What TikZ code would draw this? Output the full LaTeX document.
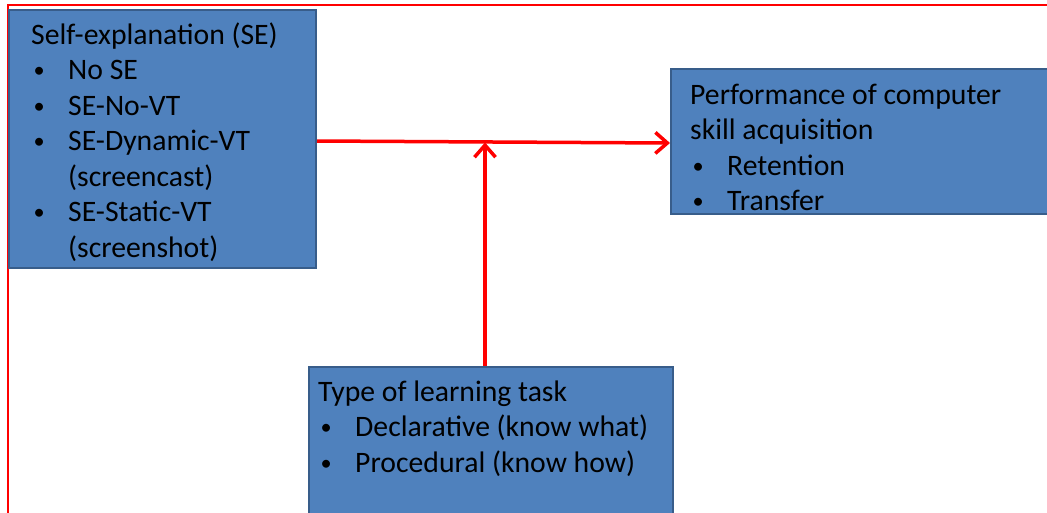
\documentclass[tikz,border=0pt]{standalone}
\usepackage{fontspec}
\setmainfont{Carlito}
\usetikzlibrary{arrows.meta}
\definecolor{boxfill}{HTML}{4F81BD}
\definecolor{boxline}{HTML}{385D8A}
\newcommand{\bul}{\makebox[37pt][l]{\hspace{2.5pt}\raisebox{1.8pt}{\scalebox{0.75}{•}}}}
\newcommand{\ind}{\hspace*{37pt}}
\tikzset{
  box/.style={rectangle, draw=boxline, fill=boxfill, line width=2pt, inner sep=0pt},
  label text/.style={anchor=base west, inner sep=0pt, text=black,
    font=\fontsize{29.7}{35.5}\selectfont},
  arr/.style={draw=red, line width=3.5pt, -{Straight Barb[length=12pt,width=21pt]}},
  frame/.style={draw=red, line width=2.3pt}
}
\begin{document}
\begin{tikzpicture}[x=1pt,y=-1pt]
\clip (0,0) rectangle (1047,512);
\fill[white] (0,0) rectangle (1047,512);
\draw[frame] (8,5) rectangle (1080,540);

\node[box, minimum width=307pt, minimum height=258pt] (se) at (162.5,139) {};
\node[box, minimum width=400pt, minimum height=145pt] (perf) at (871,141.5) {};
\node[box, minimum width=364pt, minimum height=180pt] (task) at (491,457) {};

\node[label text] (setext) at (31,44) {\parbox[t]{290pt}{\raggedright
Self-explanation (SE)\\
\bul No SE\\
\bul SE-No-VT\\
\bul SE-Dynamic-VT\\
\ind(screencast)\\
\bul SE-Static-VT\\
\ind(screenshot)}};

\node[label text] (perftext) at (690,104) {\parbox[t]{350pt}{\raggedright
Performance of computer\\
skill acquisition\\
\bul Retention\\
\bul Transfer}};

\node[label text] (tasktext) at (318,401) {\parbox[t]{350pt}{\raggedright
Type of learning task\\
\bul Declarative (know what)\\
\bul Procedural (know how)}};

\coordinate (join) at (485,142.5);
\draw[arr] ([yshift=-2pt]se.east) -- ([yshift=-1.5pt]perf.west);
\draw[arr] (task.north -| join) -- (join);
\end{tikzpicture}
\end{document}
